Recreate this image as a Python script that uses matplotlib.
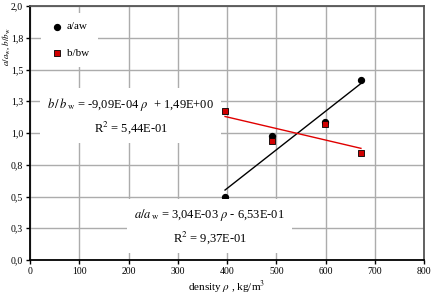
import matplotlib
matplotlib.use("Agg")
import matplotlib.pyplot as plt
import numpy as np

density = [396, 492, 599, 672]
a_aw = [0.50, 0.975, 1.09, 1.42]
b_bw = [1.175, 0.935, 1.07, 0.84]
a_coef = [3.04e-03, -6.53e-01]
b_coef = [-9.09e-04, 1.49e+00]
ytick_vals = [0, 0.25, 0.5, 0.75, 1.0, 1.25, 1.5, 1.75, 2.0]
ytick_labels = ["0,0", "0,3", "0,5", "0,8", "1,0", "1,3", "1,5", "1,8", "2,0"]
xtick_vals = [0, 100, 200, 300, 400, 500, 600, 700, 800]

plt.rcParams['font.family'] = ['Liberation Serif', 'DejaVu Serif']
plt.rcParams['mathtext.fontset'] = 'stix'

fig = plt.figure(figsize=(4.33, 2.96), dpi=100)
ax = fig.add_axes([30/433, 36/296, 394/433, 254/296])

ax.set_xlim(0, 800)
ax.set_ylim(0, 2.0)
ax.set_xticks(xtick_vals)
ax.set_xticklabels([str(v) for v in xtick_vals])
ax.set_yticks(ytick_vals)
ax.set_yticklabels(ytick_labels)
ax.grid(True, color='#acacac', linewidth=1.0, zorder=0)
ax.set_axisbelow(True)
ax.tick_params(labelsize=7, direction='out', length=3, width=1, pad=2, colors='black')
for s in ['left', 'bottom']:
    ax.spines[s].set_linewidth(1.3)
    ax.spines[s].set_color('black')
for s in ['top', 'right']:
    ax.spines[s].set_linewidth(1.3)
    ax.spines[s].set_color('#555555')

x_fit = np.array([min(density), max(density)])
ax.plot(x_fit, a_coef[0]*x_fit + a_coef[1], color='black', lw=1.0, zorder=3)
ax.plot(x_fit, b_coef[0]*x_fit + b_coef[1], color='#e00000', lw=1.0, zorder=3)

ax.scatter(density, a_aw, s=18, color='black', zorder=4, label='a/aw')
ax.scatter(density, b_bw, s=24, marker='s', facecolor='#d00000', edgecolor='black', linewidth=0.6, zorder=5, label='b/bw')

leg = ax.legend(loc='upper left', bbox_to_anchor=(0.015, 0.995), frameon=True, fontsize=8,
                handletextpad=0.3, labelspacing=1.5, borderpad=0.8, handlelength=1.2)
leg.get_frame().set_edgecolor('none')
leg.get_frame().set_facecolor('white')
leg.get_frame().set_alpha(1)

ax.text(205, 1.135, r"$b\,/\,b_{\rm\,w}$ = -9,09E-04 $\rho$  + 1,49E+00" + "\n" + r"R$^{2}$ = 5,44E-01",
        ha='center', va='center', fontsize=9, linespacing=1.5, zorder=6,
        bbox=dict(facecolor='white', edgecolor='none', pad=5))
ax.text(365, 0.265, r"$a/a_{\rm\,w}$ = 3,04E-03 $\rho$ - 6,53E-01" + "\n" + r"R$^{2}$ = 9,37E-01",
        ha='center', va='center', fontsize=9, linespacing=1.5, zorder=6,
        bbox=dict(facecolor='white', edgecolor='none', pad=5))

ax.set_xlabel(r"density $\rho$ , kg/m$^{3}$", fontsize=8, labelpad=2)
fig.text(6.5/433, 1 - 47/296, r"$a/a_{\rm w}$, $b/b_{\rm w}$", rotation=90, ha='center', va='center', fontsize=6.5)

fig.savefig("out.png", dpi=100)
